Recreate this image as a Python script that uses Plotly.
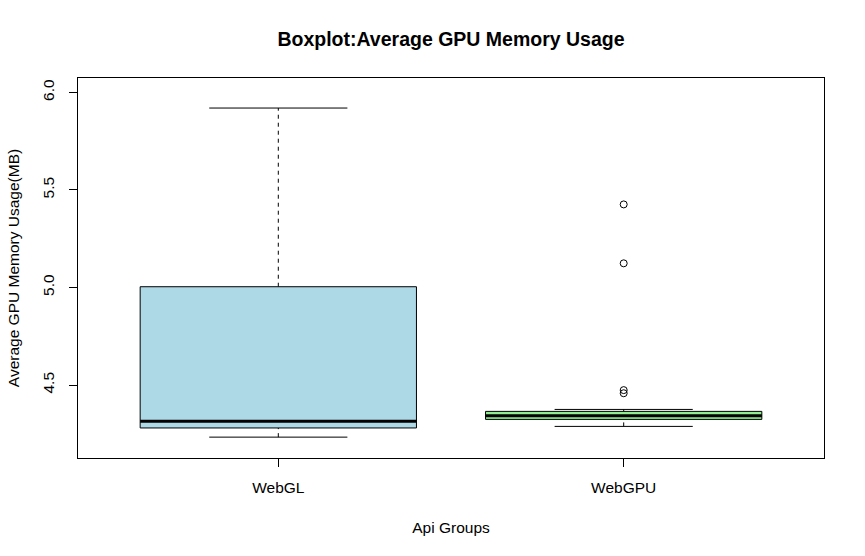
import plotly.graph_objects as go

groups = ["WebGL", "WebGPU"]
positions = [1, 2]
lower_whisker = [4.233, 4.288]
q1 = [4.280, 4.324]
median = [4.315, 4.343]
q3 = [5.004, 4.365]
upper_whisker = [5.920, 4.375]
fill_colors = ["#ADD8E6", "#90EE90"]
outlier_group = ["WebGPU", "WebGPU", "WebGPU", "WebGPU"]
outlier_values = [5.426, 5.124, 4.474, 4.458]

box_w = 0.8
cap_w = box_w / 2

fig = go.Figure()
for g, c, lw, a, m, b, uw, col in zip(groups, positions, lower_whisker, q1, median, q3, upper_whisker, fill_colors):
    # whiskers (dashed)
    fig.add_trace(go.Scatter(x=[c, c, None, c, c], y=[lw, a, None, b, uw], mode="lines",
                             line=dict(color="black", width=1, dash="4px,4px"), hoverinfo="skip", showlegend=False))
    # caps
    fig.add_trace(go.Scatter(x=[c - cap_w / 2, c + cap_w / 2, None, c - cap_w / 2, c + cap_w / 2],
                             y=[lw, lw, None, uw, uw], mode="lines",
                             line=dict(color="black", width=1), hoverinfo="skip", showlegend=False))
    # box
    fig.add_trace(go.Scatter(x=[c - box_w / 2, c + box_w / 2, c + box_w / 2, c - box_w / 2, c - box_w / 2],
                             y=[a, a, b, b, a], mode="lines", fill="toself", fillcolor=col,
                             line=dict(color="black", width=1), hoverinfo="skip", showlegend=False))
    # median
    fig.add_trace(go.Scatter(x=[c - box_w / 2, c + box_w / 2], y=[m, m], mode="lines",
                             line=dict(color="black", width=3), hoverinfo="skip", showlegend=False))

pos_map = dict(zip(groups, positions))
fig.add_trace(go.Scatter(x=[pos_map[g] for g in outlier_group], y=outlier_values, mode="markers",
                         marker=dict(symbol="circle-open", size=7, color="black", line=dict(width=1)),
                         showlegend=False))

font_family = "Liberation Sans, Arial, sans-serif"
fs = 15.5
fig.update_layout(
    width=865, height=556,
    margin=dict(l=78, r=41, t=78, b=98, autoexpand=False),
    paper_bgcolor="white", plot_bgcolor="white",
    font=dict(family=font_family, size=fs, color="black"),
    title=dict(text="<b>Boxplot:Average GPU Memory Usage</b>", x=0.5, xref="paper", xanchor="center",
               y=1 - 39 / 556, yanchor="middle", font=dict(size=19.5, color="black")),
    xaxis=dict(range=[0.42, 2.58], tickmode="array", tickvals=positions, ticktext=groups,
               showgrid=False, zeroline=False, showline=True, mirror=True, linecolor="black", linewidth=1,
               ticks="outside", ticklen=8, tickcolor="black", ticklabelstandoff=7,
               tickfont=dict(size=fs), automargin=False,
               title=dict(text="Api Groups", standoff=27, font=dict(size=fs))),
    yaxis=dict(range=[4.126, 6.074], tickmode="array", tickvals=[4.5, 5.0, 5.5, 6.0],
               ticktext=["4.5", "5.0", "5.5", "6.0"], tickangle=-90,
               showgrid=False, zeroline=False, showline=True, mirror=True, linecolor="black", linewidth=1,
               ticks="outside", ticklen=8, tickcolor="black", ticklabelstandoff=9,
               tickfont=dict(size=fs), automargin=False,
               title=dict(text="Average GPU Memory Usage(MB)", standoff=16, font=dict(size=fs))),
)

fig.write_html("out.html")
